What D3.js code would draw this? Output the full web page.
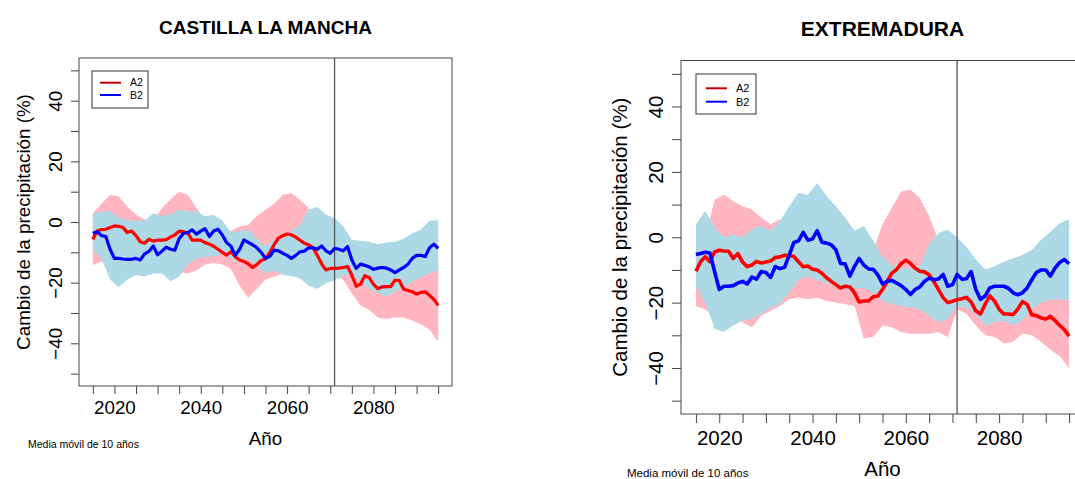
<!DOCTYPE html>
<html lang="es">
<head>
  <meta charset="UTF-8">
  <title>Cambio de la precipitación - A2 / B2</title>
  <script src="https://d3js.org/d3.v7.min.js"></script>
  <style>
    body { margin: 0; background: #fff; }
    text { font-family: "Liberation Sans", Arial, Helvetica, sans-serif; }
  </style>
</head>
<body>
<svg width="1075" height="479"></svg>

<script>
  // años de la media móvil (líneas) y de las bandas
  const years = d3.range(2015, 2096);
  const bandYears = d3.range(2015, 2096, 2);

  // ejes
  const xTicks = [2015, 2020, 2025, 2030, 2035, 2040, 2045, 2050, 2055, 2060, 2065, 2070, 2075, 2080, 2085, 2090, 2095];
  const xTickLabels = [2020, 2040, 2060, 2080];
  const yTicks = [-50, -40, -30, -20, -10, 0, 10, 20, 30, 40, 50];
  const yTickLabels = [-40, -20, 0, 20, 40];
  const markYear = 2071;

  // CASTILLA LA MANCHA - medias
  const clmA2 = [
    -5.8, -3.0, -2.5, -2.4, -1.8, -1.3, -1.4, -1.8, -3.5, -3.0,
    -4.5, -6.5, -7.0, -5.7, -6.3, -6.0, -6.0, -5.8, -5.0, -4.3,
    -3.0, -3.2, -3.6, -6.0, -6.0, -6.0, -6.8, -7.3, -8.0, -9.0,
    -10.0, -10.9, -9.8, -11.5, -12.5, -13.0, -13.8, -15.0, -14.0, -12.7,
    -12.2, -10.0, -7.5, -5.3, -4.5, -4.0, -4.2, -5.0, -6.0, -7.0,
    -7.5, -8.5, -11.0, -13.8, -15.8, -15.3, -15.3, -15.2, -15.0, -14.7,
    -17.5, -21.2, -20.5, -17.7, -18.3, -20.5, -22.0, -21.4, -21.3, -21.3,
    -19.2, -19.3, -22.2, -22.6, -23.0, -23.8, -23.2, -23.0, -24.2, -25.5,
    -27.5];
  const clmB2 = [
    -3.7, -3.2, -4.5, -4.8, -9.0, -12.0, -12.0, -12.2, -12.3, -12.3,
    -12.0, -12.5, -10.5, -9.7, -7.9, -10.8, -9.6, -8.3, -9.0, -9.3,
    -5.5, -3.7, -3.5, -2.6, -4.0, -3.0, -2.2, -4.8, -3.0, -2.4,
    -4.3, -6.8, -8.0, -11.0, -9.0, -5.9, -6.7, -7.5, -8.5, -10.0,
    -12.0, -11.3, -9.3, -9.5, -10.3, -11.0, -12.0, -11.0, -9.8, -9.6,
    -8.5, -8.5, -9.0, -7.9, -9.5, -10.3, -8.7, -9.0, -9.5, -8.1,
    -12.5, -15.3, -13.9, -14.3, -14.8, -15.6, -15.2, -15.0, -15.2, -15.8,
    -16.7, -15.8, -15.0, -13.9, -12.0, -11.0, -11.0, -11.4, -8.5, -7.3,
    -8.7];
  // CASTILLA LA MANCHA - bandas (cada 2 años)
  const clmA2Hi = [
    2.9, 6.0, 8.9, 8.4, 5.0, 2.5, 0.8, 0.5, 4.5, 7.5,
    10.0, 9.0, 4.5, 1.0, -0.5, -2.0, -3.0, -1.5, -1.0, 2.0,
    4.0, 6.0, 9.0, 9.5, 7.3, 4.5, 0.5, -3.0, -6.0, -7.5,
    -10.0, -12.0, -13.0, -14.0, -14.0, -14.0, -14.0, -13.0, -13.0, -12.0,
    -12.0];
  const clmA2Lo = [
    -14.2, -13.0, -13.0, -14.0, -14.0, -14.0, -14.0, -14.5, -15.0, -16.0,
    -16.5, -17.0, -16.0, -14.0, -13.5, -14.0, -15.5, -21.0, -25.0, -22.0,
    -19.0, -18.0, -17.0, -16.5, -17.0, -18.0, -19.0, -18.5, -18.0, -19.0,
    -23.5, -27.5, -29.0, -31.5, -32.0, -31.5, -31.5, -32.5, -33.8, -35.5,
    -39.5];
  const clmB2Hi = [
    2.9, 3.5, 3.8, 1.5, 0.5, 0.5, 0.5, 2.9, 2.0, 2.5,
    4.0, 3.5, 3.5, 2.0, 2.3, 0.5, -3.5, -3.0, -2.5, -5.5,
    -8.0, -6.0, -4.3, -3.0, -1.0, 4.0, 5.0, 2.5, 1.2, -1.5,
    -5.9, -6.2, -6.5, -7.3, -6.8, -6.5, -5.5, -3.7, -2.5, 0.5,
    0.5];
  const clmB2Lo = [
    -9.0, -12.0, -19.0, -21.5, -19.0, -17.5, -18.0, -17.0, -17.0, -19.5,
    -18.0, -14.0, -12.0, -11.5, -11.4, -10.5, -12.0, -13.0, -12.0, -14.5,
    -17.0, -16.0, -17.5, -17.8, -18.6, -21.0, -22.0, -20.2, -19.3, -17.5,
    -17.5, -19.5, -22.0, -23.3, -24.6, -23.0, -21.5, -19.7, -18.2, -17.0,
    -15.8];

  // EXTREMADURA - medias
  const extA2 = [
    -10.4, -7.5, -6.0, -7.5, -4.5, -4.0, -4.2, -4.3, -6.5, -5.0,
    -7.6, -9.0, -8.5, -7.4, -7.9, -7.6, -7.3, -6.2, -6.0, -5.5,
    -5.6, -5.9, -7.5, -9.0, -8.8, -9.8, -10.0, -11.0, -12.4, -13.5,
    -14.5, -15.5, -15.0, -15.2, -17.0, -19.8, -19.5, -19.5, -18.2, -18.0,
    -16.0, -13.5, -11.0, -9.9, -8.1, -7.0, -8.0, -9.5, -10.4, -10.6,
    -11.5, -13.5, -16.0, -18.5, -20.0, -19.6, -19.1, -18.8, -18.4, -19.8,
    -22.5, -23.5, -20.5, -17.9, -19.5, -22.0, -23.5, -23.5, -23.7, -22.0,
    -19.7, -20.5, -23.7, -24.0, -24.7, -25.0, -24.2, -25.5, -27.0, -28.3,
    -30.3];
  const extB2 = [
    -5.3, -5.0, -4.6, -4.8, -10.5, -16.0, -15.0, -15.0, -14.8, -14.0,
    -13.5, -14.3, -12.2, -12.8, -10.5, -10.8, -12.3, -9.0, -9.6, -9.2,
    -5.5, -1.6, -1.1, 1.5, -0.9, -0.5, 2.0, -1.5, -1.8, -2.3,
    -3.8, -8.0, -8.2, -11.9, -8.9, -6.5, -8.5, -9.7, -9.8, -11.5,
    -14.3, -13.5, -13.2, -14.0, -14.8, -16.0, -17.5, -16.0, -15.2, -13.5,
    -12.5, -13.0, -12.8, -11.4, -15.0, -14.5, -11.4, -12.8, -12.7, -10.5,
    -16.0, -19.0, -18.0, -15.5, -15.0, -15.0, -15.0, -15.6, -17.0, -17.6,
    -17.0, -15.5, -13.0, -10.8, -10.0, -10.0, -11.9, -9.4, -7.7, -6.8,
    -8.1];
  // EXTREMADURA - bandas (cada 2 años)
  const extA2Hi = [
    -3.0, 0.0, 11.5, 13.0, 11.0, 9.5, 8.5, 6.0, 4.0, 5.5,
    3.0, 0.0, -2.0, -3.0, -4.0, -5.0, -6.0, -8.0, -7.0, -4.0,
    4.0, 9.0, 14.0, 14.6, 12.0, 6.5, -1.0, -8.0, -10.0, -12.0,
    -14.0, -15.0, -15.0, -17.0, -18.0, -17.0, -16.0, -15.0, -15.0, -15.0,
    -15.0];
  const extA2Lo = [
    -21.0, -22.0, -24.0, -25.0, -25.0, -26.0, -27.5, -24.0, -22.5, -21.0,
    -19.0, -18.5, -19.0, -18.5, -19.5, -20.0, -20.5, -21.0, -31.0, -30.5,
    -27.0, -27.5, -29.0, -29.5, -29.5, -29.5, -29.0, -30.5, -22.0, -23.5,
    -27.0, -30.0, -30.5, -32.5, -32.0, -29.5, -30.0, -32.0, -34.4, -36.4,
    -40.0];
  const extB2Hi = [
    3.9, 8.0, 3.0, 0.0, 0.8, 0.0, 2.5, 3.5, 2.0, 5.0,
    9.5, 13.6, 13.0, 16.6, 12.6, 9.5, 6.0, 2.0, 3.4, -1.0,
    -6.0, -8.5, -9.5, -9.5, -9.0, -2.0, 1.3, 2.3, 0.0, -3.0,
    -6.8, -9.9, -8.9, -7.5, -6.4, -5.4, -3.9, -0.8, 1.7, 4.3,
    5.5];
  const extB2Lo = [
    -15.0, -20.0, -28.0, -29.0, -27.0, -25.5, -25.0, -23.5, -21.5, -20.5,
    -17.0, -13.0, -12.0, -13.0, -14.0, -15.0, -16.0, -15.5, -15.5, -17.0,
    -19.5, -20.5, -21.0, -21.5, -22.0, -24.0, -26.0, -25.0, -21.1, -21.5,
    -23.5, -27.0, -26.0, -25.5, -27.0, -25.5, -22.0, -20.0, -19.1, -19.1,
    -19.1];

  const seriesNames = ["A2", "B2"];
  const lineColors = ["#ff0000", "#0000ff"];
  const bandColors = ["#ffb6c1", "#add8e6"];

  // tamaño y posición de cada panel
  const panels = [
    {
      title: "CASTILLA LA MANCHA",
      a2: clmA2, b2: clmB2, a2Hi: clmA2Hi, a2Lo: clmA2Lo, b2Hi: clmB2Hi, b2Lo: clmB2Lo,
      box: [79, 452, 58, 386], fs: 18.8, titleFs: 19, titleY: 34,
      tick: 8, xPad: 6.7, yTickOff: 17, yTitleX: 30, xTitleY: 445,
      noteX: 28, noteY: 448, noteFs: 10.5, lw: 3.2,
      legend: { x: 92, y: 71, w: 56, h: 37, y1: 82.7, y2: 95, lx0: 100, lx1: 121, tx: 130, fs: 10.5 }
    },
    {
      title: "EXTREMADURA",
      a2: extA2, b2: extB2, a2Hi: extA2Hi, a2Lo: extA2Lo, b2Hi: extB2Hi, b2Lo: extB2Lo,
      box: [681, 1084, 60.5, 414], fs: 20.5, titleFs: 21, titleY: 36,
      tick: 9, xPad: 7.4, yTickOff: 18, yTitleX: 627, xTitleY: 476,
      noteX: 627, noteY: 477, noteFs: 11.5, lw: 3.6,
      legend: { x: 696, y: 74, w: 60, h: 40, y1: 88.3, y2: 101.7, lx0: 706, lx1: 727, tx: 736, fs: 11 }
    }
  ];

  const svg = d3.select("svg");
  const fmt = d3.format("d");   // usa el signo menos tipográfico

  panels.forEach((p, i) => {
    const [x0, x1, y0, y1] = p.box;
    const x = d3.scaleLinear().domain([2011.8, 2098.2]).range([x0, x1]);
    const y = d3.scaleLinear().domain([-54.08, 54.08]).range([y1, y0]);
    const g = svg.append("g");

    g.append("clipPath").attr("id", "clip" + i)
      .append("rect").attr("x", x0).attr("y", y0).attr("width", x1 - x0).attr("height", y1 - y0);
    const plot = g.append("g").attr("clip-path", `url(#clip${i})`);

    // bandas: primero A2 (rosa), encima B2 (azul claro)
    const bands = [[p.a2Lo, p.a2Hi], [p.b2Lo, p.b2Hi]];
    bands.forEach(([lo, hi], k) => {
      const area = d3.area()
        .x((d, j) => x(bandYears[j]))
        .y0((d, j) => y(lo[j]))
        .y1((d, j) => y(hi[j]));
      plot.append("path").datum(lo).attr("d", area).attr("fill", bandColors[k]);
    });

    // línea vertical
    plot.append("line")
      .attr("x1", x(markYear)).attr("x2", x(markYear))
      .attr("y1", y0).attr("y2", y1)
      .attr("stroke", "#555").attr("stroke-width", 1.3);

    // medias móviles
    [p.a2, p.b2].forEach((vals, k) => {
      const line = d3.line().x((d, j) => x(years[j])).y(d => y(d));
      plot.append("path").datum(vals).attr("d", line)
        .attr("fill", "none").attr("stroke", lineColors[k])
        .attr("stroke-width", p.lw).attr("stroke-linejoin", "round");
    });

    // marco
    g.append("rect").attr("x", x0).attr("y", y0).attr("width", x1 - x0).attr("height", y1 - y0)
      .attr("fill", "none").attr("stroke", "#444").attr("stroke-width", 1);

    // eje x
    const xAxis = g.append("g").attr("transform", `translate(0,${y1})`)
      .call(d3.axisBottom(x).tickValues(xTicks).tickSize(p.tick).tickPadding(p.xPad)
        .tickFormat(d => xTickLabels.includes(d) ? fmt(d) : ""));
    xAxis.select(".domain").remove();
    xAxis.attr("font-size", p.fs).attr("font-family", null);
    xAxis.selectAll(".tick line").attr("stroke", "#444");
    xAxis.selectAll(".tick text").attr("fill", "#000");

    // eje y con etiquetas giradas
    const yAxis = g.append("g").attr("transform", `translate(${x0},0)`)
      .call(d3.axisLeft(y).tickValues(yTicks).tickSize(p.tick)
        .tickFormat(d => yTickLabels.includes(d) ? fmt(d) : ""));
    yAxis.select(".domain").remove();
    yAxis.attr("font-size", p.fs).attr("font-family", null);
    yAxis.selectAll(".tick line").attr("stroke", "#444");
    yAxis.selectAll(".tick text")
      .attr("x", 0).attr("dy", null).attr("fill", "#000")
      .attr("text-anchor", "middle")
      .attr("transform", `translate(${-p.yTickOff},0) rotate(-90)`);

    // textos
    g.append("text").attr("x", (x0 + x1) / 2).attr("y", p.titleY)
      .attr("text-anchor", "middle").attr("font-weight", "bold").attr("font-size", p.titleFs)
      .text(p.title);
    g.append("text").attr("x", (x0 + x1) / 2).attr("y", p.xTitleY)
      .attr("text-anchor", "middle").attr("font-size", p.fs).text("Año");
    g.append("text")
      .attr("transform", `translate(${p.yTitleX},${(y0 + y1) / 2}) rotate(-90)`)
      .attr("text-anchor", "middle").attr("font-size", p.fs)
      .text("Cambio de la precipitación (%)");
    g.append("text").attr("x", p.noteX).attr("y", p.noteY)
      .attr("font-size", p.noteFs).text("Media móvil de 10 años");

    // leyenda
    const L = p.legend;
    g.append("rect").attr("x", L.x).attr("y", L.y).attr("width", L.w).attr("height", L.h)
      .attr("fill", "#fff").attr("stroke", "#333").attr("stroke-width", 1);
    [L.y1, L.y2].forEach((ly, k) => {
      g.append("line").attr("x1", L.lx0).attr("x2", L.lx1).attr("y1", ly).attr("y2", ly)
        .attr("stroke", k === 0 ? "#c00000" : lineColors[k]).attr("stroke-width", 2);
      g.append("text").attr("x", L.tx).attr("y", ly).attr("dy", "0.35em")
        .attr("font-size", L.fs).text(seriesNames[k]);
    });
  });
</script>
</body>
</html>
